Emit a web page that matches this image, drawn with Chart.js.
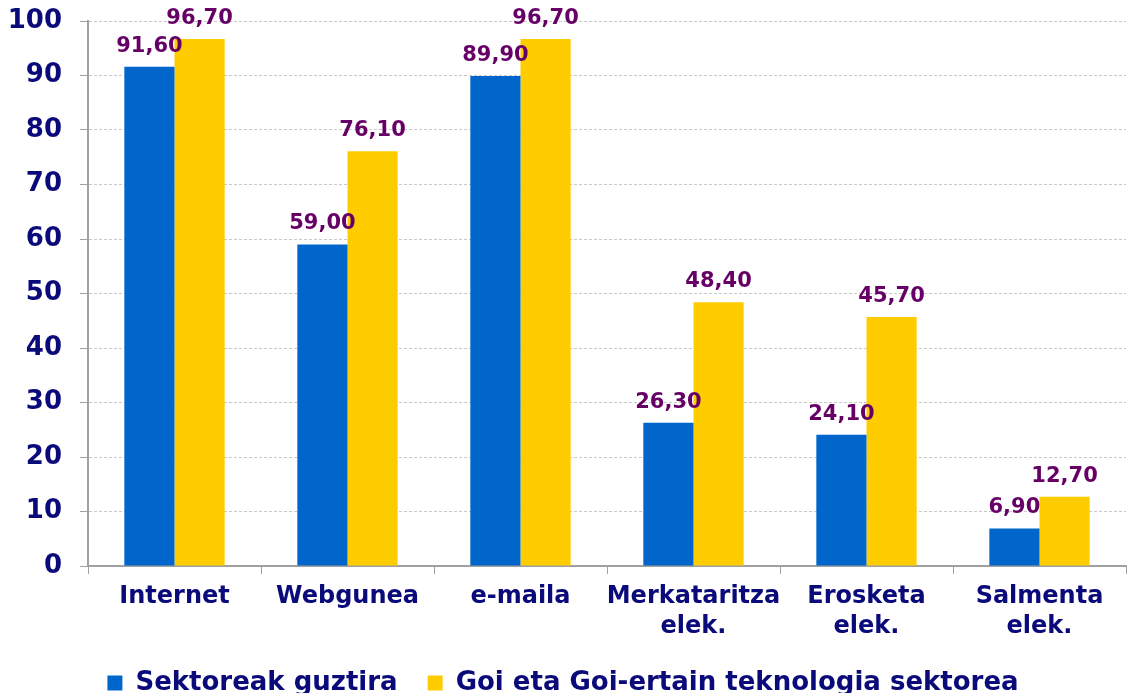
<!DOCTYPE html>
<html>
<head>
<meta charset="utf-8">
<script src="https://cdn.jsdelivr.net/npm/chart.js@4/dist/chart.umd.min.js"></script>
<style>
  html, body { margin: 0; padding: 0; background: #fff; }
  #wrap { width: 1129px; height: 693px; }
</style>
</head>
<body>
<div id="wrap"><canvas id="chart" width="1129" height="693"></canvas></div>
<script>
const categories = ['Internet', 'Webgunea', 'e-maila', ['Merkataritza', 'elek.'], ['Erosketa', 'elek.'], ['Salmenta', 'elek.']]
const seriesNames = ['Sektoreak guztira', 'Goi eta Goi-ertain teknologia sektorea']
const sektoreak = [91.6, 59.0, 89.9, 26.3, 24.1, 6.9]
const goiTeknologia = [96.7, 76.1, 96.7, 48.4, 45.7, 12.7]
const yTicks = [0, 10, 20, 30, 40, 50, 60, 70, 80, 90, 100]

const NAVY = '#0a0a7a'
const FONT = 'DejaVu Sans, Verdana, sans-serif'

// draws the value above each bar, with a comma as decimal separator
const valueLabels = {
  id: 'valueLabels',
  afterDatasetsDraw(chart) {
    const ctx = chart.ctx
    ctx.save()
    ctx.font = `bold 21px ${FONT}`
    ctx.fillStyle = '#660066'
    ctx.textAlign = 'center'
    ctx.textBaseline = 'alphabetic'
    chart.data.datasets.forEach((ds, di) => {
      chart.getDatasetMeta(di).data.forEach((bar, i) => {
        const txt = ds.data[i].toFixed(2).replace('.', ',')
        ctx.fillText(txt, bar.x, bar.y - 15)
      })
    })
    ctx.restore()
  },
}

new Chart(document.getElementById('chart'), {
  type: 'bar',
  data: {
    labels: categories,
    datasets: [
      {
        label: seriesNames[0],
        data: sektoreak,
        backgroundColor: '#0066cc',
        categoryPercentage: 0.58,
        barPercentage: 1,
      },
      {
        label: seriesNames[1],
        data: goiTeknologia,
        backgroundColor: '#ffcc00',
        categoryPercentage: 0.58,
        barPercentage: 1,
      },
    ],
  },
  options: {
    responsive: false,
    animation: false,
    layout: {padding: {top: 21, right: 3, left: 0, bottom: -13}},
    plugins: {
      tooltip: {enabled: false},
      legend: {
        position: 'bottom',
        labels: {
          boxWidth: 15,
          boxHeight: 15,
          padding: 30,
          color: NAVY,
          font: {family: FONT, size: 26, weight: 'bold'},
        },
      },
    },
    scales: {
      x: {
        grid: {drawOnChartArea: false, drawTicks: true, tickLength: 8, color: '#a0a0a0'},
        border: {color: '#a0a0a0', width: 2},
        ticks: {
          color: NAVY,
          padding: 8,
          maxRotation: 0,
          autoSkip: false,
          font: {family: FONT, size: 24, weight: 'bold', lineHeight: 1.25},
        },
        afterFit: scale => {
          scale.height = 74
          scale.paddingLeft = 0
          scale.paddingRight = 0
        },
      },
      y: {
        min: 0,
        max: 100,
        afterBuildTicks: scale => { scale.ticks = yTicks.map(v => ({value: v})) },
        grid: {color: '#c8c8c8', tickColor: '#a0a0a0', tickLength: 8, tickBorderDash: []},
        border: {color: '#a0a0a0', width: 2, dash: [3, 2]},
        ticks: {
          color: NAVY,
          padding: 18,
          font: {family: FONT, size: 26, weight: 'bold'},
        },
        afterFit: scale => {
          scale.width = 88
          scale.paddingTop = 0
          scale.paddingBottom = 0
        },
      },
    },
  },
  plugins: [valueLabels],
})
</script>
</body>
</html>
